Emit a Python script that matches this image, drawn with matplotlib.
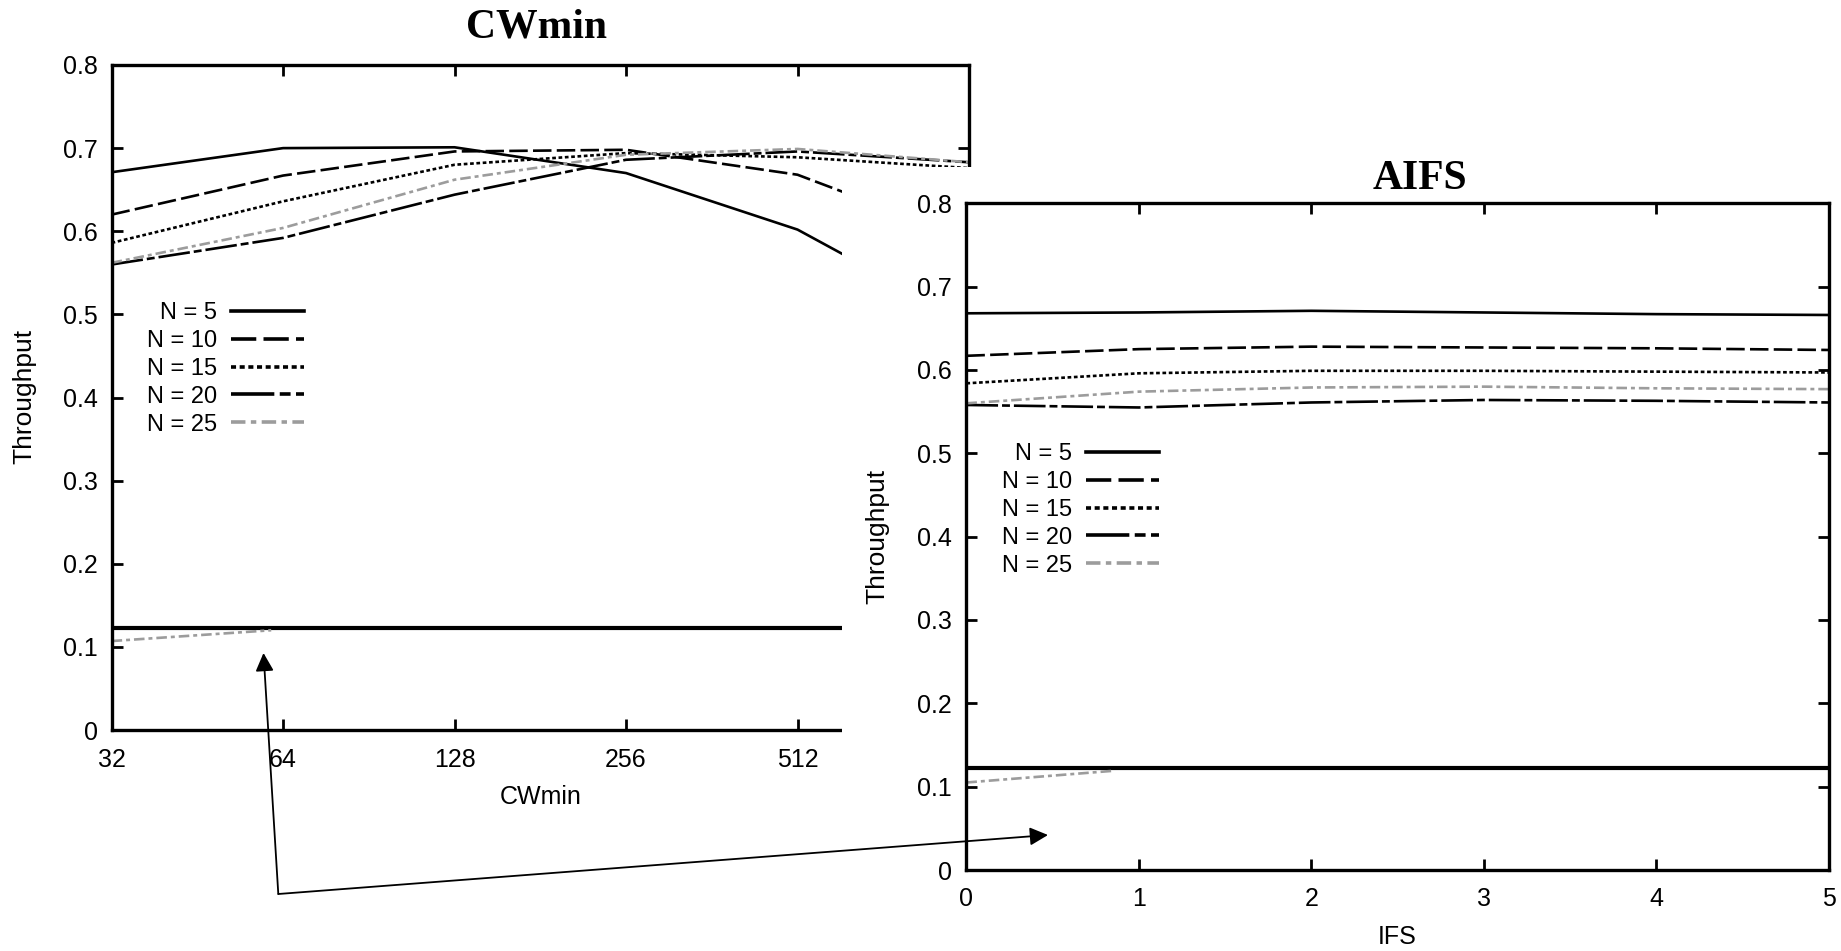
import matplotlib
matplotlib.use("Agg")
import matplotlib.pyplot as plt
from matplotlib.patches import Rectangle, FancyArrowPatch
from matplotlib.ticker import NullLocator

W, H = 1841, 951
SANS = ['Liberation Sans', 'DejaVu Sans']
SERIF = ['Liberation Serif', 'DejaVu Serif']
plt.rcParams['font.family'] = SANS

# ---------------- data ----------------
labels = ["N = 5", "N = 10", "N = 15", "N = 20", "N = 25"]

cw_x = [32, 64, 128, 256, 512, 1024]
cw_ticks = [32, 64, 128, 256, 512]
cw_n5 = [0.671, 0.700, 0.701, 0.670, 0.602, 0.490]
cw_n10 = [0.620, 0.667, 0.696, 0.698, 0.668, 0.590]
cw_n15 = [0.586, 0.636, 0.680, 0.694, 0.689, 0.676]
cw_n20 = [0.560, 0.592, 0.644, 0.686, 0.696, 0.683]
cw_n25 = [0.562, 0.604, 0.662, 0.692, 0.699, 0.683]
cw_floor = 0.123
cw_low_x = [32, 61]
cw_low_y = [0.107, 0.120]

ifs_x = [0, 1, 2, 3, 4, 5]
ifs_n5 = [0.668, 0.669, 0.671, 0.669, 0.667, 0.666]
ifs_n10 = [0.617, 0.625, 0.628, 0.627, 0.626, 0.624]
ifs_n15 = [0.584, 0.596, 0.599, 0.599, 0.598, 0.597]
ifs_n20 = [0.558, 0.555, 0.561, 0.564, 0.563, 0.561]
ifs_n25 = [0.560, 0.574, 0.579, 0.580, 0.578, 0.577]
ifs_floor = 0.122
ifs_low_x = [0, 0.85]
ifs_low_y = [0.105, 0.119]

y_ticks = [0, 0.1, 0.2, 0.3, 0.4, 0.5, 0.6, 0.7, 0.8]
y_tick_labels = ["0", "0.1", "0.2", "0.3", "0.4", "0.5", "0.6", "0.7", "0.8"]

styles = [
    dict(color='black', ls='-'),
    dict(color='black', ls=(0, (7, 2))),
    dict(color='black', ls=(0, (1.4, 1.0))),
    dict(color='black', ls=(0, (12, 1.5, 3, 1.5))),
    dict(color='#9c9c9c', ls=(0, (4, 1.5, 1.5, 1.5))),
]
LW = 1.9


def fx(px):
    return px / W


def fy(py):
    return 1 - py / H


fig = plt.figure(figsize=(W / 100, H / 100), dpi=100)
fig.patch.set_facecolor('white')

ax1 = fig.add_axes([fx(111.6), fy(730), (969 - 111.6) / W, (730 - 65) / H])
ax2 = fig.add_axes([fx(966.4), fy(870), (1828.7 - 966.4) / W, (870 - 203.3) / H])
ax1.set_zorder(1)
ax2.set_zorder(2)


def style_axes(ax, xpad, ypad):
    ax.set_ylim(0, 0.8)
    ax.set_yticks(y_ticks)
    ax.set_yticklabels(y_tick_labels)
    ax.tick_params(axis='both', which='major', direction='in', length=8, width=2,
                   top=True, right=True, labelsize=18, colors='black')
    ax.tick_params(axis='x', pad=xpad)
    ax.tick_params(axis='y', pad=ypad)
    for s in ax.spines.values():
        s.set_linewidth(2.4)
    ax.set_facecolor('white')


def add_legend(ax, handles, anchor):
    leg = ax.legend(handles, labels, loc='upper right', bbox_to_anchor=anchor,
                    bbox_transform=fig.transFigure, frameon=False, markerfirst=False,
                    handlelength=3.1, handletextpad=0.6, labelspacing=0.25,
                    borderpad=0, borderaxespad=0, fontsize=17)
    for ln in leg.get_lines():
        ln.set_linewidth(2.6)
    return leg


# ---------- left: CWmin ----------
cw_series = [cw_n5, cw_n10, cw_n15, cw_n20, cw_n25]
h1 = []
for vals, st in zip(cw_series, styles):
    ln, = ax1.plot(cw_x, vals, color=st['color'], linestyle=st['ls'], lw=LW)
    h1.append(ln)
ax1.plot([cw_x[0], cw_x[-1]], [cw_floor, cw_floor], color='black', lw=3)
ax1.plot(cw_low_x, cw_low_y, color=styles[4]['color'], linestyle=styles[4]['ls'], lw=LW)
ax1.set_xscale('log', base=2)
ax1.set_xlim(32, 1024)
ax1.set_xticks(cw_ticks)
ax1.set_xticklabels([str(v) for v in cw_ticks])
ax1.xaxis.set_minor_locator(NullLocator())
style_axes(ax1, 13, 10)
ax1.set_xlabel("CWmin", fontsize=18)
ax1.xaxis.set_label_coords(0.5, (730 - 797.5) / 665)
ax1.xaxis.label.set_va('center')
ax1.set_ylabel("Throughput", fontsize=19)
ax1.yaxis.set_label_coords((24 - 111.6) / 857.4, 0.502)
ax1.yaxis.label.set_va('center')
add_legend(ax1, h1, (fx(304), fy(302)))

# white panel of the second figure covering part of the first
cover = Rectangle((fx(842), 0), 1 - fx(842), fy(167), transform=fig.transFigure,
                  facecolor='white', edgecolor='none', zorder=1.5)
fig.add_artist(cover)

# ---------- right: AIFS ----------
ifs_series = [ifs_n5, ifs_n10, ifs_n15, ifs_n20, ifs_n25]
h2 = []
for vals, st in zip(ifs_series, styles):
    ln, = ax2.plot(ifs_x, vals, color=st['color'], linestyle=st['ls'], lw=LW)
    h2.append(ln)
ax2.plot([ifs_x[0], ifs_x[-1]], [ifs_floor, ifs_floor], color='black', lw=3)
ax2.plot(ifs_low_x, ifs_low_y, color=styles[4]['color'], linestyle=styles[4]['ls'], lw=LW)
ax2.set_xlim(0, 5)
ax2.set_xticks(ifs_x)
ax2.set_xticklabels([str(v) for v in ifs_x])
style_axes(ax2, 12, 10.5)
ax2.set_xlabel("IFS", fontsize=18)
ax2.xaxis.set_label_coords(0.5, (870 - 937) / 666.7)
ax2.xaxis.label.set_va('center')
ax2.set_ylabel("Throughput", fontsize=19)
ax2.yaxis.set_label_coords((877 - 966.4) / 862.3, 0.5)
ax2.yaxis.label.set_va('center')
add_legend(ax2, h2, (fx(1159), fy(443)))

# ---------- titles ----------
fig.text(fx(536), fy(38), "CWmin", ha='center', va='baseline', fontsize=30,
         fontweight='bold', family=SERIF, zorder=3)
fig.text(fx(1420), fy(189.3), "AIFS", ha='center', va='baseline', fontsize=30,
         fontweight='bold', family=SERIF, zorder=3)

# ---------- connecting arrows ----------
corner = (fx(278.3), fy(894))
for tip in [(fx(263.5), fy(653)), (fx(1048), fy(835))]:
    arr = FancyArrowPatch(corner, tip, transform=fig.transFigure,
                          arrowstyle='-|>,head_length=11,head_width=5.5',
                          mutation_scale=1, lw=1.3, color='black',
                          shrinkA=0, shrinkB=0, zorder=5)
    fig.add_artist(arr)

fig.savefig("out.png", dpi=100, facecolor='white')
